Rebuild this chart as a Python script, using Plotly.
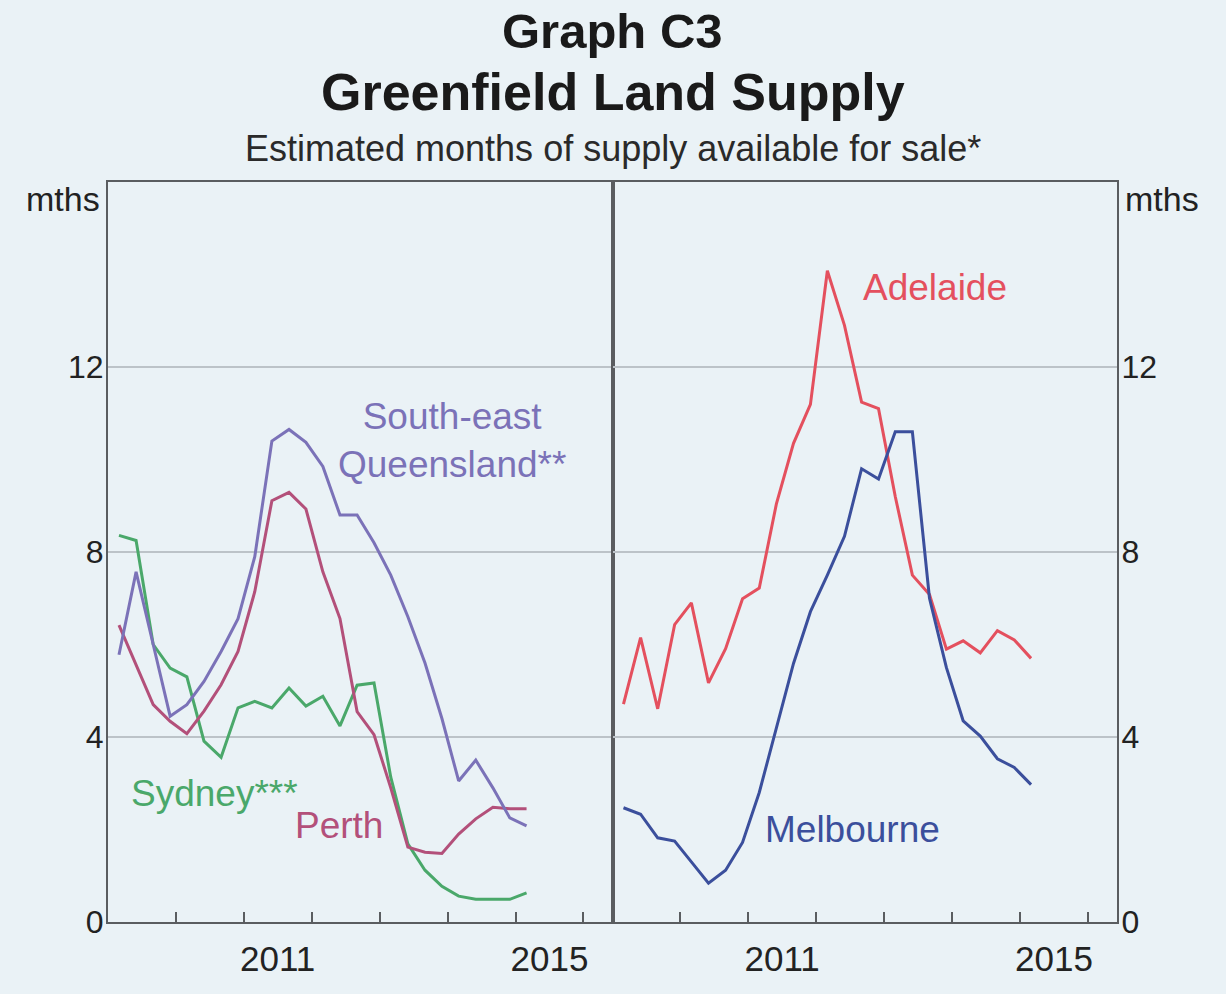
import plotly.graph_objects as go
import pandas as pd

# quarterly observations, Mar 2009 - Mar 2015
quarters = pd.date_range("2009-03-01", "2015-03-01", freq="3MS")

sydney = [8.36, 8.25, 6.0, 5.49, 5.3, 3.91, 3.56, 4.63, 4.77, 4.63, 5.06, 4.67, 4.88,
          4.24, 5.12, 5.17, 3.13, 1.69, 1.12, 0.77, 0.56, 0.49, 0.49, 0.49, 0.63]
se_queensland = [5.78, 7.57, 6.0, 4.45, 4.7, 5.2, 5.85, 6.56, 7.9, 10.4, 10.65, 10.37, 9.85,
                 8.8, 8.8, 8.2, 7.5, 6.6, 5.6, 4.4, 3.05, 3.5, 2.9, 2.25, 2.08]
perth = [6.42, 5.56, 4.7, 4.34, 4.07, 4.56, 5.13, 5.85, 7.14, 9.11, 9.29, 8.93, 7.57,
         6.56, 4.55, 4.05, 2.9, 1.62, 1.51, 1.48, 1.9, 2.23, 2.48, 2.45, 2.45]
adelaide = [4.71, 6.15, 4.61, 6.43, 6.9, 5.17, 5.91, 6.99, 7.22, 9.04, 10.35, 11.19, 14.08,
            12.9, 11.24, 11.1, 9.2, 7.5, 7.08, 5.9, 6.08, 5.82, 6.3, 6.1, 5.7]
melbourne = [2.47, 2.33, 1.82, 1.75, 1.3, 0.84, 1.12, 1.72, 2.8, 4.19, 5.59, 6.71, 7.5,
             8.34, 9.8, 9.58, 10.6, 10.6, 7.0, 5.5, 4.35, 4.02, 3.53, 3.34, 2.97]

year_ticks = [str(y) for y in range(2010, 2017)]
year_labels = ["2011", "2015"]
y_ticks = [0, 4, 8, 12]

FONT = "Liberation Sans, Arial, sans-serif"
BG = "#eaf2f6"
AXIS = "#5a5d60"
GRID = "#bcc3c8"

c_syd = "#4aa86a"
c_seq = "#7b72b8"
c_per = "#b3507a"
c_ade = "#e4505e"
c_mel = "#3b4f9c"


def yr(t):
    # decimal year -> date string (used for label placement)
    y = int(t)
    return str(pd.Timestamp(f"{y}-01-01") + pd.Timedelta(days=(t - y) * 365.25))[:10]


fig = go.Figure()
for vals, col in [(sydney, c_syd), (perth, c_per), (se_queensland, c_seq)]:
    fig.add_trace(go.Scatter(x=quarters, y=vals, mode="lines", xaxis="x", yaxis="y",
                             line=dict(color=col, width=3)))
for vals, col in [(adelaide, c_ade), (melbourne, c_mel)]:
    fig.add_trace(go.Scatter(x=quarters, y=vals, mode="lines", xaxis="x2", yaxis="y2",
                             line=dict(color=col, width=3)))

xaxis_common = dict(
    type="date",
    range=["2009-01-01", "2016-06-05"],
    tickmode="array",
    tickvals=[y + "-07-02" for y in year_labels],
    ticktext=year_labels,
    ticks="",
    ticklabelstandoff=5,
    showgrid=False,
    zeroline=False,
    showline=True,
    mirror=True,
    linecolor=AXIS,
    linewidth=2,
    tickfont=dict(size=35, color="#222"),
    minor=dict(tickmode="array", tickvals=[y + "-01-01" for y in year_ticks],
               ticks="inside", ticklen=10, tickwidth=2, tickcolor=AXIS, showgrid=False),
)
yaxis_common = dict(
    range=[0, 16],
    tickmode="array",
    tickvals=y_ticks,
    ticks="",
    showgrid=True,
    gridcolor=GRID,
    gridwidth=1.5,
    zeroline=False,
    showline=True,
    mirror=True,
    linecolor=AXIS,
    linewidth=2,
    tickfont=dict(size=32, color="#222"),
    ticklabelstandoff=-4,
)

fig.update_layout(
    width=1226, height=994,
    margin=dict(l=108, r=109, t=182, b=72),
    paper_bgcolor=BG, plot_bgcolor=BG,
    font=dict(family=FONT, color="#222"),
    showlegend=False,
    xaxis=dict(domain=[0, 0.5], anchor="y", **xaxis_common),
    xaxis2=dict(domain=[0.5, 1], anchor="y2", **xaxis_common),
    yaxis=dict(domain=[0, 1], anchor="x", side="left", **yaxis_common),
    yaxis2=dict(domain=[0, 1], anchor="x2", side="right", **yaxis_common),
)

# titles
fig.add_annotation(text="<b>Graph C3</b>", xref="paper", yref="paper", x=0.5, y=1,
                   yanchor="middle", yshift=151, showarrow=False,
                   font=dict(size=49, color="#1a1a1a"))
fig.add_annotation(text="<b>Greenfield Land Supply</b>", xref="paper", yref="paper", x=0.5, y=1,
                   yanchor="middle", yshift=90, showarrow=False,
                   font=dict(size=52, color="#1a1a1a"))
fig.add_annotation(text="Estimated months of supply available for sale*", xref="paper",
                   yref="paper", x=0.5, y=1, yanchor="middle", yshift=34, showarrow=False,
                   font=dict(size=36, color="#2a2a2a"))

# units
fig.add_annotation(text="mths", xref="x domain", yref="y", x=0, y=15.63, xanchor="right",
                   yanchor="middle", xshift=-6, showarrow=False, font=dict(size=34, color="#222"))
fig.add_annotation(text="mths", xref="x2 domain", yref="y2", x=1, y=15.63, xanchor="left",
                   yanchor="middle", xshift=6, showarrow=False, font=dict(size=34, color="#222"))

# series labels
labels = [
    ("South-east<br>Queensland**", "x", "y", 2014.06, 10.41, c_seq),
    ("Sydney***", "x", "y", 2010.57, 2.77, c_syd),
    ("Perth", "x", "y", 2012.41, 2.09, c_per),
    ("Adelaide", "x2", "y2", 2013.75, 13.72, c_ade),
    ("Melbourne", "x2", "y2", 2012.54, 2.0, c_mel),
]
for txt, xr, yrf, t, v, col in labels:
    fig.add_annotation(text=txt, xref=xr, yref=yrf, x=yr(t), y=v, showarrow=False,
                       font=dict(size=37, color=col))

fig.write_html("out.html", config={"displayModeBar": False},
               post_script="document.body.style.margin='0px';")
